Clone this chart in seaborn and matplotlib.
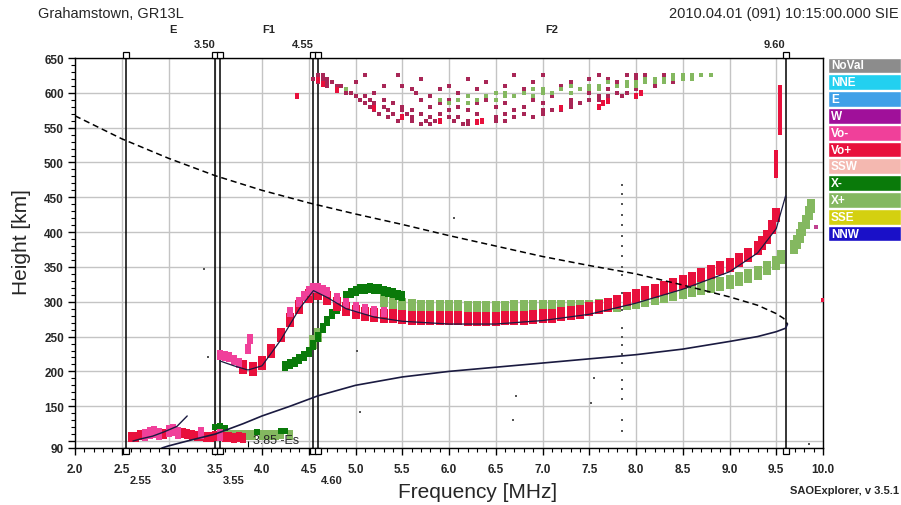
import numpy as np
import pandas as pd
import seaborn as sns
import matplotlib.pyplot as plt
import matplotlib.transforms as mtransforms
from matplotlib.path import Path
from matplotlib.ticker import MultipleLocator

# header texts
station = "Grahamstown, GR13L"
stamp = "2010.04.01 (091) 10:15:00.000 SIE"
version = "SAOExplorer, v 3.5.1"

# scaled frequencies shown as vertical markers
mark_f = [2.55, 3.50, 3.55, 4.55, 4.60, 9.60]
top_labels = [3.50, 4.55, 9.60]
bottom_labels = [2.55, 3.55, 4.60]
layers = ["E", "F1", "F2"]
layer_bounds = [2.55, 3.55, 4.60, 9.60]
es_freq = 3.85

legend_names = ["NoVal", "NNE", "E", "W", "Vo-", "Vo+", "SSW", "X-", "X+", "SSE", "NNW"]
legend_colors = ["#8c8c8c", "#22d0f0", "#3fa0e8", "#a0109a", "#f0409a", "#e8103c",
                 "#f4b8b0", "#0a7a0a", "#84b860", "#d4d010", "#1a10c8"]
c_vop = "#e8103c"
c_vom = "#f0409a"
c_xm = "#0a7a0a"
c_xp = "#84b860"
c_cloud = "#a82656"

# O-mode (Vo+) F trace
vop_f = [3.8, 3.9,
         4.0, 4.1, 4.2, 4.3, 4.4, 4.5, 4.6, 4.7, 4.8, 4.9,
         5.0, 5.1, 5.2, 5.3, 5.4, 5.5, 5.6, 5.7, 5.8, 5.9,
         6.0, 6.1, 6.2, 6.3, 6.4, 6.5, 6.6, 6.7, 6.8, 6.9,
         7.0, 7.1, 7.2, 7.3, 7.4, 7.5, 7.6, 7.7, 7.8, 7.9,
         8.0, 8.1, 8.2, 8.3, 8.4, 8.5, 8.6, 8.7, 8.8, 8.9,
         9.0, 9.1, 9.2, 9.3, 9.35, 9.4, 9.45, 9.5]
vop_h = [206, 204,
         212, 230, 252, 274, 292, 308, 313, 306, 297, 290,
         286, 283, 281, 280, 279, 278, 277, 277, 276, 276,
         276, 276, 275, 275, 275, 275, 276, 276, 277, 278,
         279, 280, 282, 284, 286, 289, 292, 296, 300, 304,
         308, 312, 316, 320, 324, 328, 333, 338, 343, 348,
         353, 360, 367, 377, 384, 393, 407, 424]

# Vo- (pink)
vom_f = [3.55, 3.6, 3.65, 3.7, 3.75, 3.85, 3.87, 4.3, 4.4, 4.45, 4.5, 4.55, 4.6,
         4.65, 4.7, 4.8, 4.9, 5.0, 5.1, 5.2, 5.3]
vom_h = [224, 222, 220, 216, 212, 232, 246, 285, 300, 308, 315, 320, 320,
         317, 314, 306, 298, 293, 290, 287, 285]

# X- (dark green)
xm_f = [4.25, 4.3, 4.35, 4.4, 4.45, 4.5, 4.55, 4.6, 4.65, 4.7, 4.75, 4.8,
        4.9, 4.95, 5.0, 5.05, 5.1, 5.15, 5.2, 5.25, 5.3, 5.35, 5.4, 5.45, 5.5]
xm_h = [208, 211, 214, 218, 222, 228, 238, 250, 262, 273, 282, 290,
        308, 313, 316, 318, 319, 320, 319, 318, 316, 314, 312, 310, 308]

# X+ (light green)
xp_f = [4.55, 4.6,
        5.3, 5.4, 5.5, 5.6, 5.7, 5.8, 5.9,
        6.0, 6.1, 6.2, 6.3, 6.4, 6.5, 6.6, 6.7, 6.8, 6.9,
        7.0, 7.1, 7.2, 7.3, 7.4, 7.5, 7.6, 7.7, 7.8, 7.9,
        8.0, 8.1, 8.2, 8.3, 8.4, 8.5, 8.6, 8.7, 8.8, 8.9,
        9.0, 9.1, 9.2, 9.3, 9.4, 9.5, 9.55,
        9.69, 9.72, 9.75, 9.78, 9.82, 9.85, 9.87]
xp_h = [242, 252,
        302, 299, 296, 294, 293, 292, 292,
        292, 292, 291, 291, 291, 291, 291, 292, 292, 292,
        292, 292, 292, 292, 293, 293, 294, 295, 296, 298,
        300, 302, 305, 308, 311, 314, 317, 320, 323, 326,
        329, 333, 337, 342, 348, 356, 364,
        378, 386, 395, 405, 415, 427, 438]

# sporadic E
es_vop_f = [2.6, 2.65, 2.7, 2.95, 3.15, 3.2, 3.25, 3.3, 3.35, 3.4, 3.45, 3.5,
            3.6, 3.65, 3.7, 3.75, 3.8]
es_vop_h = [106, 106, 108, 110, 112, 110, 108, 107, 107, 106, 106, 107,
            106, 106, 105, 106, 105]
es_vom_f = [2.75, 2.8, 2.85, 2.9, 3.0, 3.05, 3.1, 3.35, 3.55]
es_vom_h = [109, 111, 113, 110, 114, 116, 112, 112, 109]
es_xm_f = [3.5, 3.55, 3.6, 3.95, 4.2, 4.25]
es_xm_h = [120, 121, 119, 113, 114, 114]
es_xp_f = [3.6, 3.65, 3.7, 3.75, 3.8, 3.85, 3.9, 4.0, 4.05, 4.1, 4.15, 4.2, 4.3]
es_xp_h = [110, 109, 108, 108, 109, 108, 109, 108, 108, 109, 108, 110, 109]

# Vo+ vertical streaks near 9.5 MHz
bar_f = [9.54, 9.54, 9.54, 9.54, 9.54, 9.54, 9.54, 9.50, 9.50, 9.50, 9.50]
bar_h = [545, 555, 565, 575, 585, 595, 605, 483, 493, 503, 512]

# multiple-hop echoes (height: frequencies)
cloud_rows = {
    625: [4.6, 4.65, 5.1, 5.45, 6.7, 7.0, 7.6, 7.9, 8.0, 8.1, 8.3, 8.5],
    620: [4.55, 4.6, 4.65, 4.7, 5.7, 6.2, 7.5, 7.7, 8.0, 8.2],
    615: [4.6, 4.7, 4.75, 5.0, 6.4, 6.9, 7.3, 7.8, 8.1, 8.4],
    610: [4.7, 4.8, 4.85, 5.3, 5.5, 6.0, 6.6, 7.2, 7.6, 7.9, 8.2],
    605: [4.8, 4.9, 5.6, 5.9, 6.3, 6.8, 7.4, 7.7, 8.0],
    600: [4.9, 4.95, 5.2, 5.65, 6.1, 6.5, 7.0, 7.5, 7.8, 7.9],
    595: [5.0, 5.1, 5.8, 6.2, 6.7, 7.1, 7.6, 7.7, 7.85],
    590: [5.05, 5.15, 5.3, 5.7, 6.0, 6.4, 6.9, 7.3, 7.5, 7.6],
    585: [5.1, 5.2, 5.4, 5.9, 6.3, 6.6, 7.0, 7.3, 7.4],
    580: [5.15, 5.3, 5.5, 5.8, 6.1, 6.5, 6.8, 7.2, 7.3],
    575: [5.2, 5.35, 5.5, 5.6, 6.0, 6.2, 6.7, 7.0, 7.1, 7.2],
    570: [5.25, 5.4, 5.55, 5.7, 5.9, 6.3, 6.6, 6.8, 7.0],
    565: [5.35, 5.5, 5.6, 5.8, 6.0, 6.1, 6.5, 6.7, 6.9],
    560: [5.45, 5.6, 5.75, 5.85, 6.05, 6.2, 6.3, 6.5, 6.6],
    555: [5.7, 5.8, 6.15, 6.2],
}
cloud_red_f = [4.6, 4.65, 4.8, 5.2, 5.5, 5.9, 6.3, 6.35, 7.2, 7.6, 7.65, 7.7, 8.0, 8.05, 4.37]
cloud_red_h = [618, 612, 604, 578, 566, 560, 558, 560, 578, 580, 585, 588, 596, 600, 595]
cloud_green_rows = {
    625: [8.4, 8.5, 8.6, 8.7, 8.8],
    620: [8.1, 8.2, 8.3, 8.4, 8.5, 8.6],
    615: [7.7, 7.9, 8.0, 8.1, 8.2, 8.3],
    610: [7.3, 7.5, 7.6, 7.8, 7.9, 8.0],
    605: [4.9, 6.9, 7.0, 7.2, 7.4, 7.5, 7.6],
    600: [6.5, 6.6, 6.8, 7.0, 7.1, 7.3],
    595: [6.2, 6.4, 6.6, 6.7, 6.9],
    590: [5.9, 6.1, 6.3, 6.5],
    585: [6.0, 6.2],
}

# stray points without a direction
noval_f = [7.85, 7.85, 7.85, 7.85, 7.85, 7.85, 7.85, 7.85, 7.85, 7.85, 7.85, 7.85,
           7.85, 7.85, 7.85, 7.85, 7.85, 7.85, 7.85, 7.85, 7.85, 7.85,
           3.38, 3.42, 5.05, 5.02, 6.72, 6.68, 7.52, 7.55, 9.85, 6.05]
noval_h = [468, 455, 440, 425, 410, 395, 380, 365, 350, 338, 312, 288,
           262, 250, 238, 225, 212, 188, 175, 160, 130, 115,
           347, 220, 142, 230, 165, 130, 155, 190, 96, 420]
odd_f = [10.0, 9.93]
odd_h = [303, 408]
odd_c = [c_vop, "#c04090"]

# traced curves
dash_f = [2.0, 2.5, 3.0, 3.5, 4.0, 4.5, 5.0, 5.5, 6.0, 6.5, 7.0, 7.5, 8.0, 8.5,
          9.0, 9.3, 9.5, 9.58, 9.62]
dash_h = [567, 534, 506, 481, 460, 442, 426, 411, 395, 380, 365, 352, 340, 324,
          307, 295, 283, 276, 268]
prof_f = [2.93, 3.0, 3.2, 3.5, 3.8, 4.0, 4.3, 4.6, 5.0, 5.5, 6.0, 6.5, 7.0, 7.5,
          8.0, 8.5, 9.0, 9.3, 9.5, 9.6, 9.62]
prof_h = [90, 93, 100, 110, 125, 136, 150, 165, 180, 192, 200, 206, 212, 218,
          224, 232, 243, 250, 257, 262, 268]
e_f = [2.62, 2.7, 2.83, 2.95, 3.09, 3.2]
e_h = [100, 103, 107, 113, 121, 136]
fit_f = [3.55, 3.7, 3.85, 4.0, 4.2, 4.4, 4.55, 4.7, 4.9, 5.2, 5.5, 6.0, 6.5, 7.0,
         7.5, 8.0, 8.5, 9.0, 9.3, 9.5, 9.6]
fit_h = [215, 208, 202, 208, 245, 290, 316, 306, 290, 278, 272, 268, 268, 273,
         282, 298, 318, 343, 370, 405, 452]


def rect(w, h):
    return Path([(-w / 2, -h / 2), (w / 2, -h / 2), (w / 2, h / 2),
                 (-w / 2, h / 2), (-w / 2, -h / 2)])


def dots(ax, f, h, color, w, hgt, z=3):
    # w, hgt in pixels
    size = (max(w, hgt) / 1.389) ** 2
    sns.scatterplot(x=f, y=h, marker=rect(w, hgt), s=size, color=color,
                    linewidth=0, ax=ax, zorder=z, legend=False)


def rows_to_lists(rows):
    ff = [f for hh, fs in rows.items() for f in fs]
    hh_ = [hh for hh, fs in rows.items() for f in fs]
    return ff, hh_


sns.set_style("white")
plt.rcParams['font.family'] = ['Liberation Sans', 'DejaVu Sans']

fig = plt.figure(figsize=(9.01, 5.06), dpi=100)
ax = fig.add_axes([75 / 901, 1 - 449 / 506, 748 / 901, 390 / 506])

ax.set_xlim(2.0, 10.0)
ax.set_ylim(90, 650)
ax.set_xticks(np.arange(2.0, 10.01, 0.5))
ax.set_xticklabels(["%.1f" % v for v in np.arange(2.0, 10.01, 0.5)])
yt = [90, 100, 150, 200, 250, 300, 350, 400, 450, 500, 550, 600, 650]
ax.set_yticks(yt)
ax.set_yticklabels(["" if v == 100 else str(v) for v in yt])
ax.xaxis.set_minor_locator(MultipleLocator(0.1))
ax.yaxis.set_minor_locator(MultipleLocator(10))
ax.tick_params(which="major", direction="out", length=5, width=1, color="black",
               labelsize=8.5, pad=3, bottom=True, left=True)
ax.tick_params(which="minor", direction="out", length=3, width=0.8, color="black",
               bottom=True, left=True)
ax.tick_params(axis="x", pad=6)
for lab in ax.get_xticklabels() + ax.get_yticklabels():
    lab.set_fontweight("bold")
ax.grid(True, which="major", color="#c4c4c4", lw=1)
ax.set_axisbelow(True)
for sp in ax.spines.values():
    sp.set_color("black")
    sp.set_linewidth(1)

# scaled frequency markers
ax.vlines(mark_f, 90, 650, color="black", lw=1.1, zorder=2)
sq_top = mtransforms.offset_copy(ax.transData, fig=fig, y=3, units="dots")
sq_bot = mtransforms.offset_copy(ax.transData, fig=fig, y=-3, units="dots")
ax.plot(mark_f, [650] * len(mark_f), ls="none", marker="s", ms=4.5, mfc="white",
        mec="black", mew=0.9, clip_on=False, transform=sq_top, zorder=6)
ax.plot(mark_f, [90] * len(mark_f), ls="none", marker="s", ms=4.5, mfc="white",
        mec="black", mew=0.9, clip_on=False, transform=sq_bot, zorder=6)
tr = mtransforms.blended_transform_factory(ax.transData, ax.transAxes)
for f in top_labels:
    ax.text(f, 1.022, "%.2f" % f, transform=tr, ha="right", va="bottom",
            fontsize=8, fontweight="bold")
for f in bottom_labels:
    ax.text(f + 0.03, -0.07, "%.2f" % f, transform=tr, ha="left", va="top",
            fontsize=8, fontweight="bold")
for name, a, b in zip(layers, layer_bounds[:-1], layer_bounds[1:]):
    ax.text((a + b) / 2, 1.062, name, transform=tr, ha="center", va="bottom",
            fontsize=8, fontweight="bold")

# echoes
cf, ch = rows_to_lists(cloud_rows)
dots(ax, cf, ch, c_cloud, 3.5, 3.5)
gf, gh = rows_to_lists(cloud_green_rows)
dots(ax, gf, gh, c_xp, 3.5, 3.5)
dots(ax, cloud_red_f, cloud_red_h, c_vop, 5, 6)
dots(ax, noval_f, noval_h, "#555555", 2, 2)
dots(ax, xp_f, xp_h, c_xp, 9, 14)
dots(ax, xm_f, xm_h, c_xm, 6, 10)
dots(ax, vop_f, vop_h, c_vop, 9, 15)
dots(ax, vom_f, vom_h, c_vom, 7, 11)
dots(ax, bar_f, bar_h, c_vop, 4, 9)
dots(ax, es_xp_f, es_xp_h, c_xp, 7, 10)
dots(ax, es_xm_f, es_xm_h, c_xm, 7, 7)
dots(ax, es_vop_f, es_vop_h, c_vop, 7, 11)
dots(ax, es_vom_f, es_vom_h, c_vom, 6, 12)
for f, h, c in zip(odd_f, odd_h, odd_c):
    dots(ax, [f], [h], c, 4, 4)

# fitted curves
sns.lineplot(x=dash_f, y=dash_h, ax=ax, color="black", lw=1.1,
             linestyle=(0, (4, 2.5)), sort=False, estimator=None, zorder=5)
sns.lineplot(x=prof_f, y=prof_h, ax=ax, color="#1a1a40", lw=1.2,
             sort=False, estimator=None, zorder=5)
sns.lineplot(x=fit_f, y=fit_h, ax=ax, color="#1a1a40", lw=0.9,
             sort=False, estimator=None, zorder=5)
sns.lineplot(x=e_f, y=e_h, ax=ax, color="#1a1a40", lw=1.0,
             sort=False, estimator=None, zorder=5)
ax.vlines([es_freq], 91, 100, color="black", lw=0.8, zorder=5)
ax.text(es_freq + 0.05, 93, "%.2f -Es" % es_freq, fontsize=9, va="bottom",
        ha="left", zorder=6)
ax.set_xlabel("")
ax.set_ylabel("")

fig.text(478 / 901, 1 - 493 / 506, "Frequency [MHz]", ha="center", va="center",
         fontsize=15)
fig.text(22 / 901, 1 - 242 / 506, "Height [km]", ha="center", va="center",
         fontsize=15, rotation=90)
fig.text(38 / 901, 1 - 14 / 506, station, ha="left", va="center", fontsize=10.5)
fig.text(899 / 901, 1 - 14 / 506, stamp, ha="right", va="center", fontsize=10.5)
fig.text(899 / 901, 1 - 491 / 506, version, ha="right", va="center", fontsize=8,
         fontweight="bold")

# direction legend
ax_leg = fig.add_axes([828 / 901, 1 - 243 / 506, 73 / 901, 185 / 506])
sns.barplot(x=[1] * len(legend_names), y=legend_names, hue=legend_names,
            palette=legend_colors, orient="h", width=0.93, saturation=1,
            ax=ax_leg, legend=False)
ax_leg.set_xlim(0, 1)
ax_leg.set_ylim(len(legend_names) - 0.5, -0.5)
ax_leg.axis("off")
for i, name in enumerate(legend_names):
    ax_leg.text(0.04, i, name, color="white", fontsize=8.5, fontweight="bold",
                va="center", ha="left")

fig.savefig("out.png", dpi=100)
